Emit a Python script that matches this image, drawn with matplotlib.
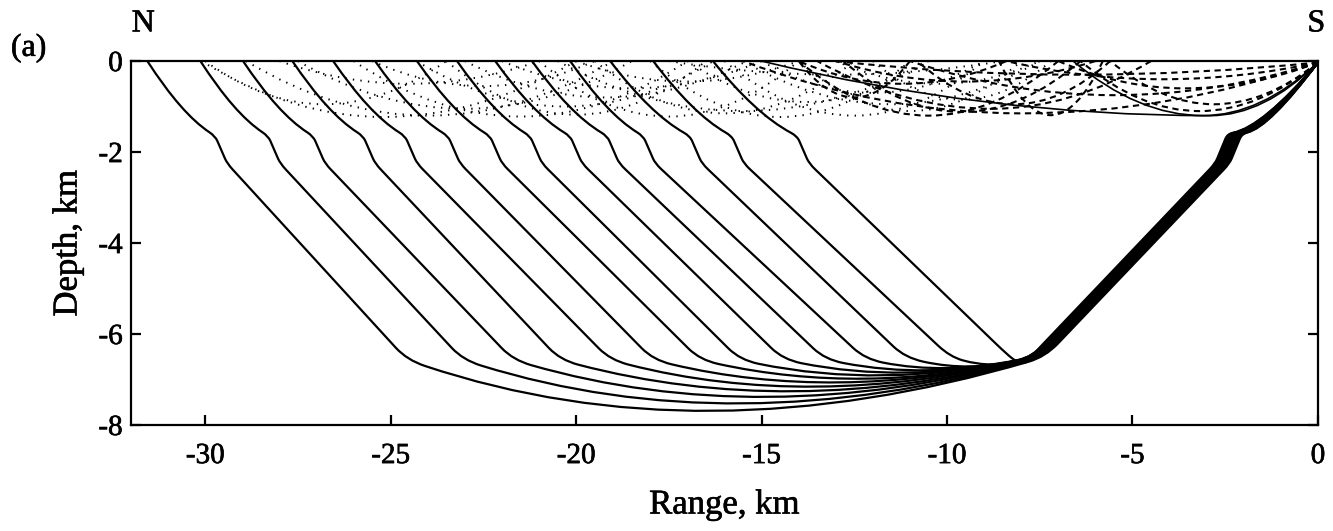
import numpy as np
import matplotlib
matplotlib.use('Agg')
import matplotlib.pyplot as plt
import matplotlib.patheffects as pe
from matplotlib.path import Path
from matplotlib.patches import PathPatch

plt.rcParams['font.family'] = ['Liberation Serif', 'DejaVu Serif']
plt.rcParams['axes.unicode_minus'] = False

# ---------------- data (km) ----------------
# deep (solid) rays: surface arrival, upper kink, bottom corner, turning point
surf_x   = [-31.56, -30.13, -28.98, -27.65, -26.55, -25.42, -24.29,
            -23.21, -22.18, -21.19, -20.16, -19.08, -17.92, -16.31]
kink_x   = [-29.73, -28.30, -27.09, -25.74, -24.61, -23.45, -22.32,
            -21.24, -20.16, -19.16, -18.19, -16.93, -15.80, -14.04]
corner_x = [-24.56, -23.05, -21.70, -20.43, -19.08, -17.92, -16.66,
            -15.58, -14.42, -13.29, -12.21, -11.13, -9.92, -8.38]
corner_z = [-6.57, -6.57, -6.57, -6.57, -6.57, -6.57, -6.57,
            -6.57, -6.56, -6.56, -6.55, -6.52, -6.50, -6.45]
turn_x   = [-16.3, -15.5, -14.8, -14.1, -13.5, -12.9, -12.2,
            -11.7, -11.1, -10.5, -10.0, -9.4, -8.8, -8.0]
turn_z   = [-7.63, -7.47, -7.33, -7.21, -7.11, -7.02, -6.94,
            -6.87, -6.81, -6.76, -6.71, -6.67, -6.63, -6.60]
down_off = [0.00, -0.03, -0.06, -0.09, -0.12, -0.15, -0.18,
            -0.21, -0.24, -0.27, -0.30, -0.33, -0.36, -0.39]

# near-surface rays: (start x, bottom x, end x, bottom depth)
solid_arcs = [(0.0, -3.1, -6.6, -1.20),
              (0.0, -2.9, -15.0, -1.20)]
dashed_arcs = [(0.0, -2.8, -5.6, -0.95),
               (0.0, -3.2, -6.4, -1.10),
               (0.0, -3.6, -7.0, -0.60),
               (0.0, -4.2, -8.4, -0.40),
               (0.0, -5.5, -11.0, -0.75),
               (0.0, -6.5, -13.0, -0.30),
               (-5.6, -8.2, -10.8, -0.95),
               (-6.4, -9.6, -12.8, -1.12),
               (-7.0, -10.5, -14.0, -1.20),
               (-8.4, -11.2, -14.0, -0.50),
               (-5.8, -7.2, -8.6, -1.19),
               (-6.0, -9.5, -13.0, -0.45),
               (-11.0, -12.5, -14.0, -0.80),
               (0.0, -8.0, -15.5, -1.15),
               (-4.5, -8.8, -13.5, -1.05)]
dotted_arcs = [(-30.1, -25.2, -20.0, -1.23),
               (-28.9, -24.0, -19.0, -1.20),
               (-30.0, -26.8, -23.5, -0.95),
               (-27.5, -23.0, -18.5, -1.05),
               (-26.0, -21.5, -17.0, -1.22),
               (-24.3, -20.3, -16.3, -1.00),
               (-23.0, -19.2, -15.4, -0.80),
               (-21.0, -17.5, -14.0, -1.22),
               (-19.5, -16.0, -12.5, -1.15),
               (-22.0, -18.5, -15.0, -0.60),
               (-18.0, -14.5, -11.0, -1.23),
               (-17.0, -13.8, -10.5, -0.90),
               (-16.0, -12.5, -9.0, -1.20),
               (-15.0, -12.0, -9.0, -0.70),
               (-14.0, -11.0, -8.0, -1.10),
               (-13.0, -10.2, -7.5, -0.50),
               (-12.0, -9.6, -7.2, -0.85),
               (-25.5, -22.5, -19.5, -0.55),
               (-20.0, -17.0, -14.0, -0.45),
               (-28.0, -24.5, -21.0, -0.50),
               (-17.5, -13.0, -8.5, -0.30),
               (-23.5, -20.0, -16.5, -1.18),
               (-20.5, -15.5, -10.5, -1.10),
               (-15.5, -11.5, -7.5, -0.95)]

x_ticks = [-30, -25, -20, -15, -10, -5, 0]
y_ticks = [0, -2, -4, -6, -8]

# ---------------- figure ----------------
fig = plt.figure(figsize=(13.33, 5.31), dpi=100)
ax = fig.add_axes([0.0983, 0.1996, 0.8904, 0.6854])
ax.set_xlim(-32, 0)
ax.set_ylim(-8, 0)


def unit(a, b):
    d = np.asarray(b, float) - np.asarray(a, float)
    return d / np.hypot(*d)


def P(p):
    return tuple(np.asarray(p, float))


def deep_ray(i):
    o = down_off[i]
    src = np.array((0.0, -0.03))
    dk = np.array((-1.3 + 0.5 * o, -1.45))
    du = np.array((-2.05 + o, -1.60))
    dl = np.array((-2.38 + o, -2.25))
    bk = np.array((-7.35 + o, -6.50))
    C = np.array((corner_x[i], corner_z[i]))
    T = np.array((turn_x[i], turn_z[i]))
    K = (4 * T - bk - C) / 2.0
    U = np.array((kink_x[i], -1.65))
    L = np.array((kink_x[i] + 0.32, -2.25))
    S = np.array((surf_x[i], 0.0))
    Ks = np.array((S[0] + 0.5 * (U[0] - S[0]), 0.7 * U[1]))
    kb = np.hypot(*(K - bk))
    kc = np.hypot(*(K - C))
    verts, codes = [], []

    def mv(p):
        verts.append(P(p)); codes.append(Path.MOVETO)

    def ln(p):
        verts.append(P(p)); codes.append(Path.LINETO)

    def q(c, p):
        verts.extend([P(c), P(p)]); codes.extend([Path.CURVE3, Path.CURVE3])

    mv(src)
    q(dk, du + 0.15 * unit(du, dk))
    q(du, du + 0.12 * unit(du, dl))
    ln(dl + 0.12 * unit(dl, du))
    q(dl, dl + 0.2 * unit(dl, bk))
    ln(bk + 0.45 * unit(bk, dl))
    q(bk, bk + min(0.45, 0.3 * kb) * unit(bk, K))
    q(K, C + min(0.5, 0.3 * kc) * unit(C, K))
    q(C, C + 0.4 * unit(C, L))
    ln(L + 0.2 * unit(L, C))
    q(L, L + 0.12 * unit(L, U))
    ln(U + 0.12 * unit(U, L))
    q(U, U + 0.18 * unit(U, Ks))
    q(Ks, S)
    return Path(verts, codes)


for i in range(len(surf_x)):
    ax.add_patch(PathPatch(deep_ray(i), fill=False, edgecolor='black',
                           lw=1.6, joinstyle='round', capstyle='round'))


def arc_path(x0, xb, x1, zb):
    z0 = -0.03 if x0 == 0.0 else 0.0
    z1 = -0.03 if x1 == 0.0 else 0.0
    verts = [(x0, z0), ((x0 + xb) / 2.0, zb), (xb, zb),
             ((xb + x1) / 2.0, zb), (x1, z1)]
    codes = [Path.MOVETO, Path.CURVE3, Path.CURVE3, Path.CURVE3, Path.CURVE3]
    return Path(verts, codes)


for a in solid_arcs:
    ax.add_patch(PathPatch(arc_path(*a), fill=False, edgecolor='black', lw=1.2))
for a in dashed_arcs:
    ax.add_patch(PathPatch(arc_path(*a), fill=False, edgecolor='black', lw=1.5,
                           linestyle=(0, (3.0, 2.2))))
for a in dotted_arcs:
    ax.add_patch(PathPatch(arc_path(*a), fill=False, edgecolor='black', lw=1.4,
                           linestyle=(0, (0.7, 3.2))))

ax.set_xticks(x_ticks)
ax.set_yticks(y_ticks)
for sp in ax.spines.values():
    sp.set_linewidth(1.6)
ax.tick_params(direction='in', length=7, width=1.6, labelsize=21,
               top=False, right=True)
ax.tick_params(axis='x', pad=13)
ax.tick_params(axis='y', pad=6)

stroke = [pe.withStroke(linewidth=0.45, foreground='black')]
for lab in ax.get_xticklabels() + ax.get_yticklabels():
    lab.set_path_effects(stroke)

ax.set_xlabel('Range, km', fontsize=25, labelpad=14, path_effects=stroke)
ax.set_ylabel('Depth, km', fontsize=25, labelpad=10, path_effects=stroke)

fig.text(0.0215, 0.909, '(a)', fontsize=23, ha='center', va='center',
         path_effects=stroke)
fig.text(0.1075, 0.955, 'N', fontsize=23, ha='center', va='center',
         path_effects=stroke)
fig.text(0.9875, 0.955, 'S', fontsize=23, ha='center', va='center',
         path_effects=stroke)

fig.savefig('out.png', dpi=100)
